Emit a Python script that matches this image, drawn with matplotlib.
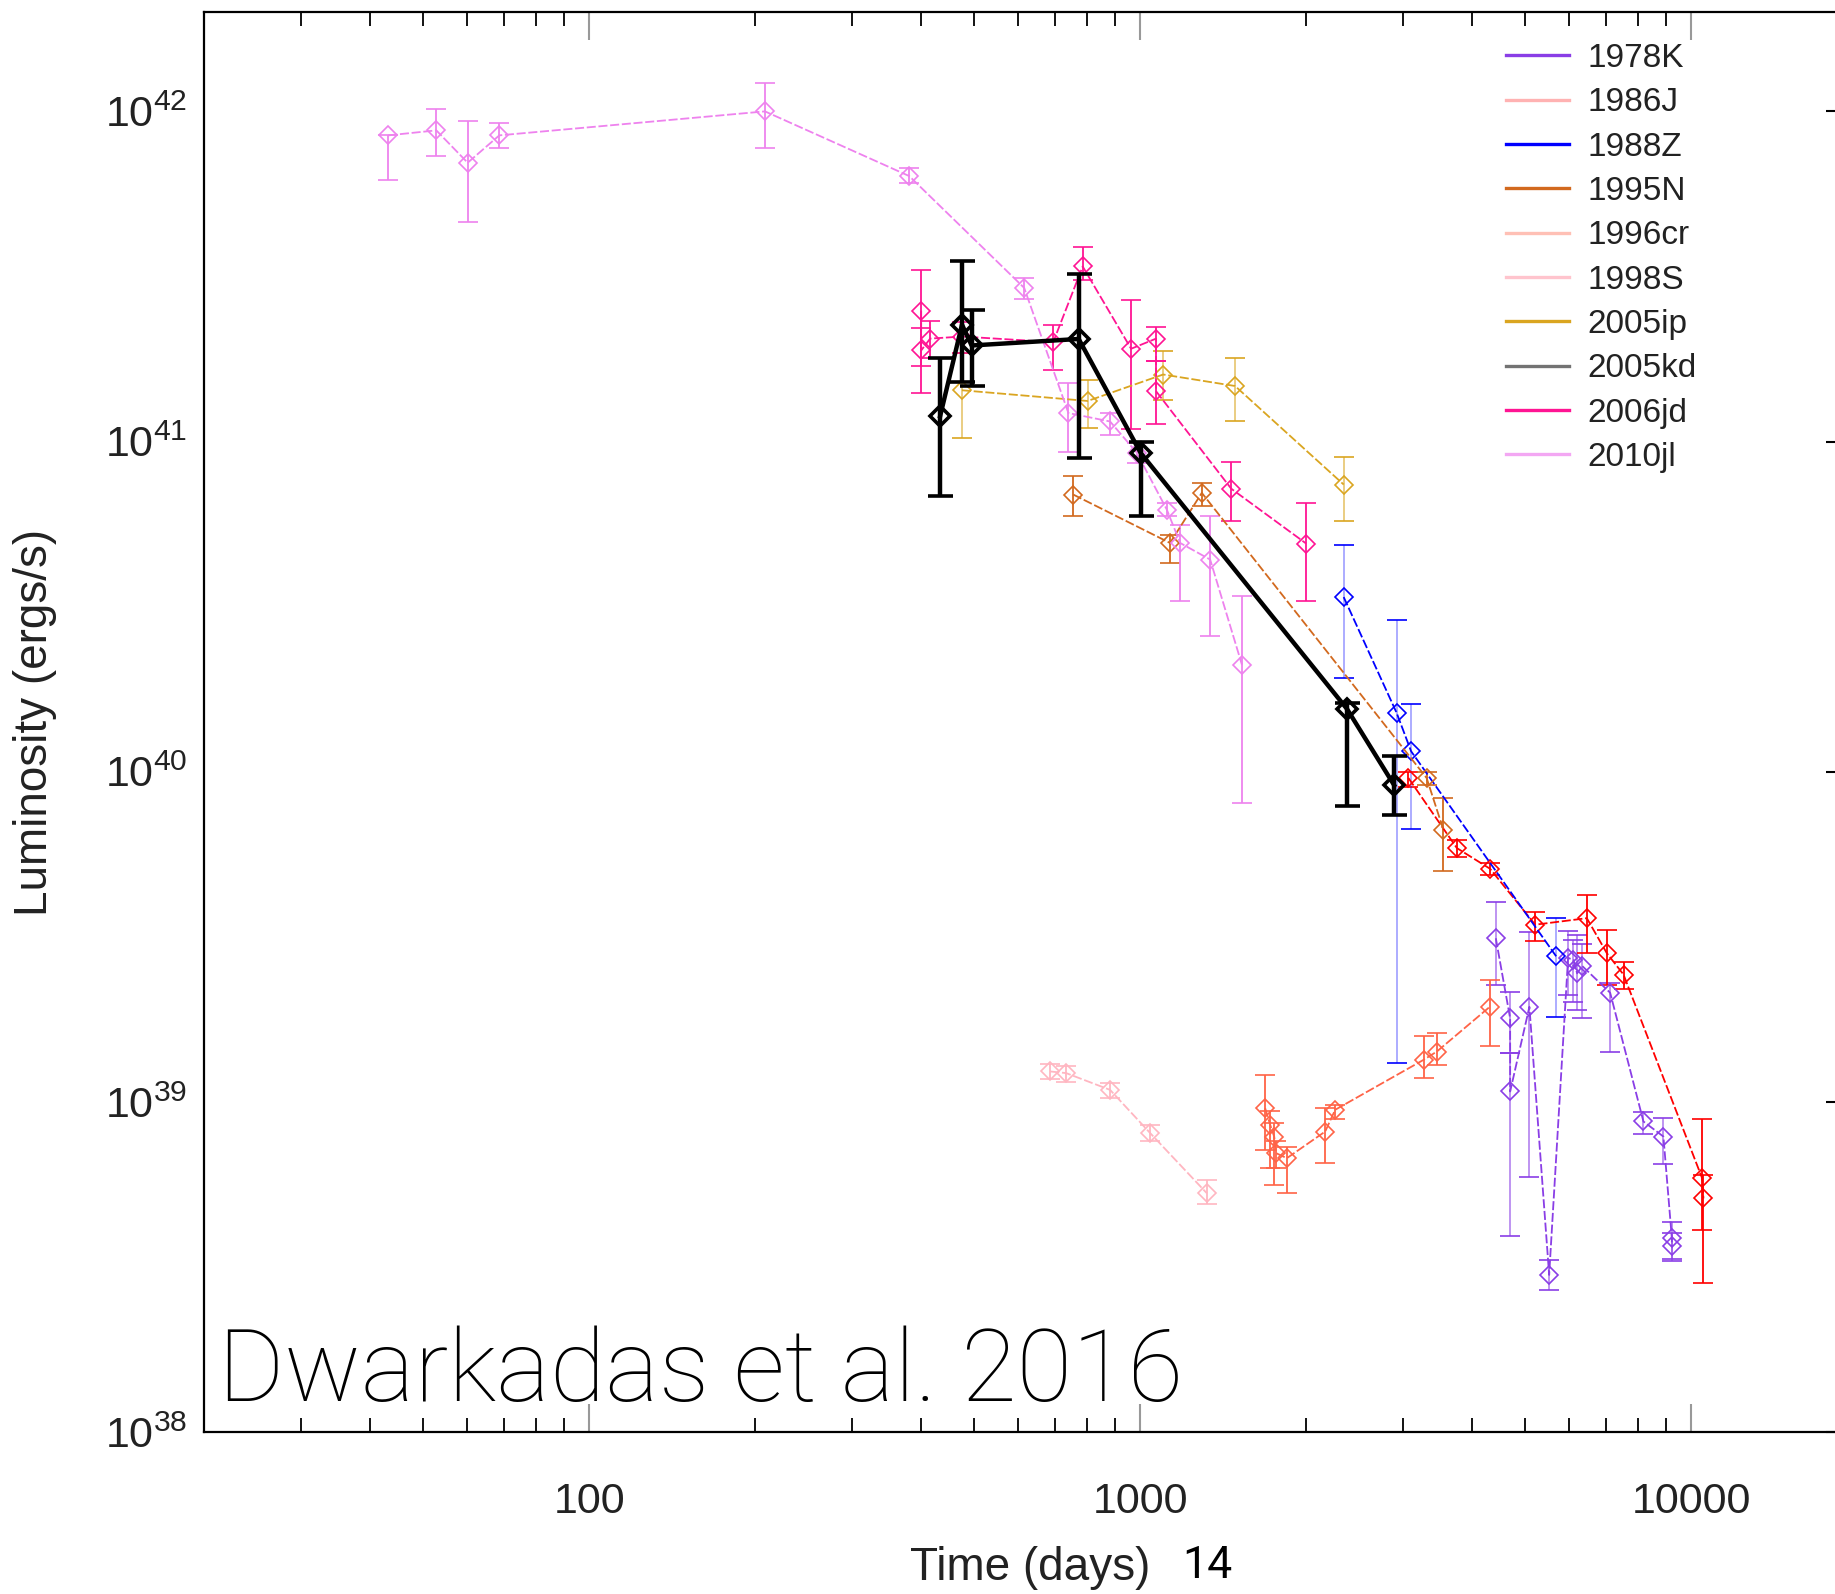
import matplotlib
matplotlib.use('Agg')
import matplotlib.pyplot as plt
from matplotlib.lines import Line2D
from matplotlib.ticker import FuncFormatter, NullFormatter, NullLocator
import numpy as np

# days since explosion, luminosity (erg/s), lower / upper bound of the error bar
t_1978K = [4421, 4694, 4694, 5087, 5525, 5980, 6115, 6210, 6342, 7129, 8193, 8906, 9226, 9226]
L_1978K = [3.13e39, 1.79e39, 1.075e39, 1.94e39, 2.99e38, 2.73e39, 2.69e39, 2.45e39, 2.58e39, 2.14e39, 8.72e38, 7.85e38, 3.86e38, 3.65e38]
lo_1978K = [2.26e39, 1.41e39, 3.91e38, 5.94e38, 2.7e38, 2.1e39, 2.0e39, 1.9e39, 1.8e39, 1.42e39, 8.0e38, 6.5e38, 3.35e38, 3.3e38]
hi_1978K = [4.02e39, 2.15e39, 1.41e39, 3.28e39, 3.32e38, 3.3e39, 3.1e39, 3.2e39, 3.0e39, 2.29e39, 9.3e38, 8.95e38, 4.34e38, 4.0e38]

t_1986J = [3068, 3757, 4317, 5212, 6467, 7031, 7538, 10471, 10527]
L_1986J = [9.57e39, 5.87e39, 5.08e39, 3.44e39, 3.6e39, 2.82e39, 2.43e39, 5.87e38, 5.1e38]
lo_1986J = [9.0e39, 5.5e39, 4.85e39, 3.06e39, 2.82e39, 2.26e39, 2.2e39, 4.09e38, 2.82e38]
hi_1986J = [1.0e40, 6.2e39, 5.3e39, 3.77e39, 4.24e39, 3.32e39, 2.66e39, 8.88e38, 6.0e38]

t_1988Z = [2341, 2921, 3103, 5689]
L_1988Z = [3.38e40, 1.507e40, 1.153e40, 2.76e39]
lo_1988Z = [1.923e40, 1.31e39, 6.7e39, 1.81e39]
hi_1988Z = [4.87e40, 2.89e40, 1.6e40, 3.6e39]

t_1995N = [756, 1133, 1294, 3311, 3551]
L_1995N = [6.91e40, 4.93e40, 6.99e40, 9.57e39, 6.67e39]
lo_1995N = [5.97e40, 4.29e40, 6.4e40, 9.1e39, 4.99e39]
hi_1995N = [7.89e40, 5.2e40, 7.5e40, 1.0e40, 8.32e39]

t_1996cr = [1686, 1722, 1751, 1766, 1846, 2167, 2259, 3268, 3455, 4317]
L_1996cr = [9.57e38, 8.52e38, 7.85e38, 6.99e38, 6.75e38, 8.13e38, 9.46e38, 1.34e39, 1.42e39, 1.944e39]
lo_1996cr = [7.15e38, 6.3e38, 5.6e38, 6.3e38, 5.29e38, 6.52e38, 8.9e38, 1.18e39, 1.29e39, 1.48e39]
hi_1996cr = [1.21e39, 9.4e38, 8.6e38, 7.6e38, 7.3e38, 9.6e38, 9.8e38, 1.58e39, 1.62e39, 2.34e39]

t_1998S = [687, 734, 882, 1043, 1321]
L_1998S = [1.236e39, 1.222e39, 1.087e39, 8.04e38, 5.29e38]
lo_1998S = [1.17e39, 1.15e39, 1.03e39, 7.6e38, 4.9e38]
hi_1998S = [1.3e39, 1.28e39, 1.14e39, 8.5e38, 5.8e38]

t_2005ip = [475, 803, 1101, 1487, 2341]
L_2005ip = [1.43e41, 1.327e41, 1.596e41, 1.473e41, 7.41e40]
lo_2005ip = [1.026e41, 1.1e41, 1.34e41, 1.15e41, 5.74e40]
hi_2005ip = [1.86e41, 1.54e41, 1.88e41, 1.79e41, 8.98e40]

t_2005kd = [433.5, 475, 494.5, 773.5, 1002, 2375, 2891]
L_2005kd = [1.193e41, 2.26e41, 1.954e41, 2.045e41, 9.24e40, 1.547e40, 9.1e39]
lo_2005kd = [6.86e40, 1.52e41, 1.475e41, 8.92e40, 5.94e40, 7.85e39, 7.41e39]
hi_2005kd = [1.79e41, 3.52e41, 2.51e41, 3.21e41, 1.0e41, 1.62e40, 1.113e40]

t_2006jd = [400.5, 400.5, 415.8, 475.3, 695.4, 786.6, 963, 1069, 1069, 1463, 2001]
L_2006jd = [2.49e41, 1.887e41, 2.05e41, 2.08e41, 2.0e41, 3.39e41, 1.91e41, 2.05e41, 1.42e41, 7.2e40, 4.91e40]
lo_2006jd = [1.69e41, 1.405e41, 1.79e41, 1.85e41, 1.65e41, 3.08e41, 1.088e41, 1.75e41, 1.13e41, 5.74e40, 3.28e40]
hi_2006jd = [3.31e41, 2.2e41, 2.32e41, 2.3e41, 2.26e41, 3.89e41, 2.69e41, 2.23e41, 1.75e41, 8.66e40, 6.52e40]

t_2010jl = [43.2, 52.8, 60.2, 68.7, 208.5, 381, 616, 741, 882, 986, 1118, 1182, 1340, 1530]
L_2010jl = [8.46e41, 8.76e41, 6.99e41, 8.46e41, 1.0e42, 6.37e41, 2.92e41, 1.22e41, 1.15e41, 9.25e40, 6.22e40, 4.93e40, 4.39e40, 2.11e40]
lo_2010jl = [6.18e41, 7.35e41, 4.62e41, 7.76e41, 7.76e41, 6.05e41, 2.71e41, 9.27e40, 1.05e41, 8.6e40, 5.95e40, 3.28e40, 2.57e40, 8.04e39]
hi_2010jl = [8.46e41, 1.02e42, 9.37e41, 9.2e41, 1.216e42, 6.72e41, 3.12e41, 1.5e41, 1.22e41, 9.9e40, 6.5e40, 5.6e40, 5.94e40, 3.41e40]

names = ['1978K', '1986J', '1988Z', '1995N', '1996cr', '1998S', '2005ip', '2005kd', '2006jd', '2010jl']
series = {
    '1978K': (t_1978K, L_1978K, lo_1978K, hi_1978K),
    '1986J': (t_1986J, L_1986J, lo_1986J, hi_1986J),
    '1988Z': (t_1988Z, L_1988Z, lo_1988Z, hi_1988Z),
    '1995N': (t_1995N, L_1995N, lo_1995N, hi_1995N),
    '1996cr': (t_1996cr, L_1996cr, lo_1996cr, hi_1996cr),
    '1998S': (t_1998S, L_1998S, lo_1998S, hi_1998S),
    '2005ip': (t_2005ip, L_2005ip, lo_2005ip, hi_2005ip),
    '2005kd': (t_2005kd, L_2005kd, lo_2005kd, hi_2005kd),
    '2006jd': (t_2006jd, L_2006jd, lo_2006jd, hi_2006jd),
    '2010jl': (t_2010jl, L_2010jl, lo_2010jl, hi_2010jl),
}

colors = {'1978K': '#8a3ee6', '1986J': '#ff0000', '1988Z': '#0000ff', '1995N': '#d2691e',
          '1996cr': '#ff6347', '1998S': '#ffb6c1', '2005ip': '#daa520', '2005kd': '#000000',
          '2006jd': '#ff1493', '2010jl': '#ee82ee'}
# error bars drawn fainter than the line for some objects
err_alpha = {'1988Z': 0.35, '1978K': 0.6, '2005ip': 0.6}
# legend lines look paler for the thin-lined objects
leg_alpha = {'1986J': 0.3, '1996cr': 0.4, '1998S': 0.8, '2005kd': 0.55, '2010jl': 0.7}

plt.rcParams['font.family'] = ['Liberation Sans', 'DejaVu Sans']

fig = plt.figure(figsize=(18.35, 15.94), dpi=100)
ax = fig.add_axes([204 / 1835, 1 - 1432 / 1594, 1653 / 1835, 1420 / 1594])
ax.set_xscale('log')
ax.set_yscale('log')

for n in names:
    t, L, lo, hi = [np.array(v, dtype=float) for v in series[n]]
    c = colors[n]
    yerr = np.clip([L - lo, hi - L], 0, None)
    if n == '2005kd':
        kw = dict(ms=10, mew=2.6, lw=3.2, elinewidth=3.2, capsize=9, capthick=3.2, zorder=5,
                  linestyle='-')
    else:
        kw = dict(ms=9.5, mew=1.2, lw=1.3, elinewidth=1.3, capsize=7, capthick=1.3, zorder=3,
                  linestyle=(0, (5, 1.5)))
    eb = ax.errorbar(t, L, yerr=yerr, marker='D', mfc='none', mec=c, color=c, ecolor=c, **kw)
    a = err_alpha.get(n)
    if a is not None:
        for coll in eb[2]:
            coll.set_alpha(a)

ax.set_xlim(20, 20000)
ax.set_ylim(1e38, 2e42)

ax.xaxis.set_major_formatter(FuncFormatter(lambda v, p: f'{v:.0f}'))
ax.xaxis.set_minor_formatter(NullFormatter())
ax.yaxis.set_minor_locator(NullLocator())

ax.tick_params(axis='x', which='major', direction='in', length=20, width=1.5, color='#999999',
               top=True, bottom=True, labelsize=31, pad=36, labelcolor='#222222')
ax.tick_params(axis='x', which='minor', direction='in', length=10, width=1.3, color='black',
               top=True, bottom=True)
ax.tick_params(axis='y', which='major', direction='in', length=22, width=1.5, left=False,
               right=True, labelleft=True, labelsize=31, pad=12, labelcolor='#222222')
for s in ax.spines.values():
    s.set_linewidth(1.6)

handles = [Line2D([], [], color=colors[n], lw=2.4, alpha=leg_alpha.get(n, 1.0)) for n in names]
leg = fig.legend(handles, names, loc='upper left', bbox_to_anchor=(1506 / 1835, 1 - 43 / 1594),
                 frameon=False, fontsize=24, handlelength=1.9, handletextpad=0.55,
                 labelspacing=0.40, borderpad=0, borderaxespad=0)
for txt in leg.get_texts():
    txt.set_color('#222222')

fig.text(35 / 1835, 1 - 722 / 1594, 'Luminosity (ergs/s)', rotation=90, ha='center', va='center',
         fontsize=33, color='#222222')
fig.text(1030 / 1835, 1 - 1568 / 1594, 'Time (days)', ha='center', va='center',
         fontsize=33, color='#222222')
fig.text(1182 / 1835, 1 - 1578 / 1594, '14', ha='left', va='baseline', color='black',
         fontsize=32, family=['Roboto', 'DejaVu Sans'])
fig.text(218 / 1835, 1 - 1401 / 1594, 'Dwarkadas et al. 2016', ha='left', va='baseline',
         fontsize=73, family=['Roboto', 'DejaVu Sans'], fontweight='light')

fig.savefig('out.png', dpi=100)
